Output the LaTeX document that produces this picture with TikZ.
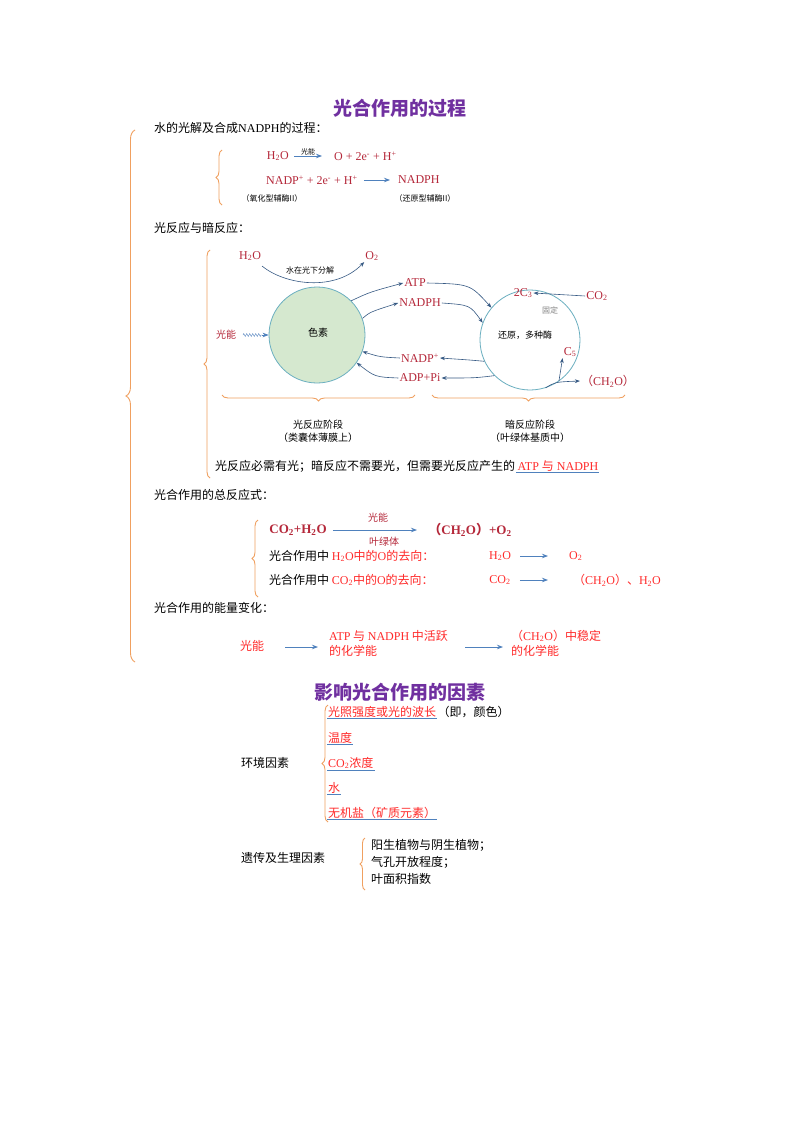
\documentclass[tikz,border=0pt]{standalone}
\usepackage{fontspec}
\setmainfont{Liberation Serif}
\newfontfamily\cjk{Noto Sans CJK SC}
\usetikzlibrary{arrows.meta,decorations.pathreplacing,decorations.pathmorphing}
\definecolor{dred}{HTML}{B5283A}
\definecolor{ared}{HTML}{FF2A2A}
\definecolor{ablue}{HTML}{4F81BD}
\definecolor{ora}{HTML}{F0A060}
\definecolor{pur}{HTML}{7030A0}
\definecolor{cfill}{HTML}{D5E8CF}
\definecolor{cline}{HTML}{6AAFC0}
\newcommand{\sbx}[1]{\textsubscript{#1}}
\newcommand{\spx}[1]{\textsuperscript{#1}}
\newcommand{\lp}{{\cjk （}}
\newcommand{\rp}{{\cjk ）}}
\tikzset{
 x=1pt,y=-1pt,
 every node/.style={inner sep=1pt,font=\fontsize{12}{14}\selectfont},
 title/.style={font=\cjk\bfseries\fontsize{19}{21}\selectfont,text=pur},
 lab/.style={anchor=west,font=\cjk\fontsize{12}{14}\selectfont},
 dr/.style={text=dred,font=\fontsize{12}{14}\selectfont},
 rr/.style={text=ared,font=\fontsize{12}{14}\selectfont},
 arr/.style={draw=ablue,-{Stealth[length=6pt]},line width=0.8pt},
 carr/.style={draw=ablue!70!black,-{Stealth[length=5pt]},line width=0.6pt},
 br/.style={draw=ora,line width=0.9pt,decorate,decoration={brace,amplitude=#1}},
 br/.default=7pt,
 ul/.style={draw=ablue,line width=1pt},
}
\begin{document}
\begin{tikzpicture}
\useasboundingbox[fill=white] (0,0) rectangle (800,1132);
\node[title] (t1) at (400,108) {光合作用的过程};
\draw[br=9pt] (135,662) -- (135,130);
\node[lab] (h1) at (153,128) {水的光解及合成{\rmfamily NADPH}的过程：};
\draw[br=6pt] (222,205) -- (222,150);
\node[dr,anchor=east] (w1) at (290,156) {H\sbx{2}O};
\node[dr,anchor=west] (w2) at (333,156) {O + 2e\spx{-} + H\spx{+}};
\coordinate (w1e) at (294,156);
\coordinate (w2w) at (322,156);
\draw[arr] (w1e) -- node[above,font=\cjk\fontsize{7}{8}\selectfont]{光能} (w2w);
\node[dr,anchor=west] (n1) at (265,180) {NADP\spx{+} + 2e\spx{-} + H\spx{+}};
\node[dr,anchor=west] (n2) at (397,180) {NADPH};
\draw[arr] (n1.east) ++(5,0) -- (390,180);
\node[font=\cjk\fontsize{8}{9}\selectfont] (o1) at (272,198) {（氧化型辅酶II）};
\node[font=\cjk\fontsize{8}{9}\selectfont] (o2) at (425,198) {（还原型辅酶II）};
\node[lab] (h2) at (153,228) {光反应与暗反应：};
\draw[br=6pt] (210,478) -- (210,250);
% diagram
\node[circle,draw=cline,fill=cfill,minimum size=96pt,line width=0.8pt] (c1) at (317,335) {};
\node[font=\cjk] (sz) at (318,333) {色素};
\node[circle,draw=cline,minimum size=100pt,line width=0.8pt] (c2) at (530,340) {};
\node[dr] (h2o) at (250,256) {H\sbx{2}O};
\node[dr] (o2) at (372,256) {O\sbx{2}};
\node[font=\cjk\fontsize{8}{9}\selectfont] (fj) at (310,270) {水在光下分解};
\draw[carr] (262,266) .. controls (285,285) and (335,292) .. (o2.south west);
\node[dr,font=\cjk] (gn) at (226,335) {光能};
\coordinate (gw) at (262,335);
\draw[ablue,decorate,decoration={zigzag,amplitude=1.5pt,segment length=3pt}] (243,335) -- (gw);
\draw[arr] (gw) -- (c1.west);
\node[dr] (atp) at (415,283) {ATP};
\node[dr] (nadph) at (420,303) {NADPH};
\node[dr] (nadp) at (420,358) {NADP\spx{+}};
\node[dr] (adp) at (420,378) {ADP+Pi};
\draw[carr] (c1.45) .. controls (370,292) .. (atp.west);
\draw[carr] (c1.20) .. controls (370,312) .. (nadph.west);
\draw[carr] (atp.east) .. controls (470,284) .. (c2.140);
\draw[carr] (nadph.east) .. controls (470,305) .. (c2.160);
\draw[carr] (c2.205) .. controls (470,360) .. (nadp.east);
\draw[carr] (c2.225) .. controls (475,378) .. (adp.east);
\draw[carr] (nadp.west) .. controls (380,357) .. (c1.-20);
\draw[carr] (adp.west) .. controls (375,377) .. (c1.-35);
\node[dr] (c3) at (523,293) {2C\sbx{3}};
\node[dr] (co2) at (597,296) {CO\sbx{2}};
\draw[carr] (co2.west) -- (c3.east);
\node[font=\cjk\fontsize{8}{9}\selectfont,text=gray] (gd) at (550,310) {固定};
\node[font=\cjk\fontsize{9}{10}\selectfont] (hy) at (525,335) {还原，多种酶};
\node[dr] (c5) at (570,352) {C\sbx{5}};
\node[dr] (ch2o) at (608,381) {\lp CH\sbx{2}O\rp};
\draw[carr] (c2.-55) -- (c5.south west);
\draw[carr] (c2.-72) .. controls (555,382) .. (ch2o.west);
\draw[br=6pt] (415,395) -- (222,395);
\draw[br=6pt] (625,395) -- (432,395);
\node[font=\cjk\fontsize{10}{13}\selectfont,align=center] (gf) at (318,431) {光反应阶段\\（类囊体薄膜上）};
\node[font=\cjk\fontsize{10}{13}\selectfont,align=center] (af) at (530,431) {暗反应阶段\\（叶绿体基质中）};
\node[lab] (ln) at (214,466) {光反应必需有光；暗反应不需要光，但需要光反应产生的};
\node[lab,text=ared,font=\rmfamily\fontsize{12}{14}\selectfont,inner sep=1pt] (an) at (ln.east) {ATP {\cjk 与} NADPH};
\draw[ul] (an.south west) -- (an.south east);
\node[lab] (h3) at (153,495) {光合作用的总反应式：};
\draw[br=6pt] (258,597) -- (258,520);
\node[dr,font=\bfseries\fontsize{13}{15}\selectfont] (cw) at (298,530) {CO\sbx{2}+H\sbx{2}O};
\node[dr,font=\bfseries\fontsize{13}{15}\selectfont] (cc) at (470,530) {\lp CH\sbx{2}O\rp +O\sbx{2}};
\draw[arr] (cw.east) ++(5,0) coordinate (p1) -- (417,530) coordinate (p2);
\node[font=\cjk\fontsize{10}{11}\selectfont,text=dred] (gn2) at (378,518) {光能};
\node[font=\cjk\fontsize{10}{11}\selectfont,text=dred] (ylt) at (384,542) {叶绿体};
\node[lab] (q1) at (268,556) {光合作用中 \textcolor{ared}{{\rmfamily H\sbx{2}O}中的{\rmfamily O}的去向：}};
\node[rr] (q1a) at (500,556) {H\sbx{2}O};
\node[rr,anchor=west] (q1b) at (568,556) {O\sbx{2}};
\draw[arr] (q1a.east) ++(8,0) -- (548,556);
\node[lab] (q2) at (268,580) {光合作用中 \textcolor{ared}{{\rmfamily CO\sbx{2}}中的{\rmfamily O}的去向：}};
\node[rr] (q2a) at (500,580) {CO\sbx{2}};
\node[rr,anchor=west,font=\cjk\fontsize{12}{14}\selectfont] (q2b) at (572,580) {（{\rmfamily CH\sbx{2}O}）、{\rmfamily H\sbx{2}O}};
\draw[arr] (q2a.east) ++(8,0) -- (548,580);
\node[lab] (h4) at (153,608) {光合作用的能量变化：};
\node[rr,font=\cjk\fontsize{12}{14}\selectfont] (e1) at (252,646) {光能};
\node[rr,anchor=west,align=left,font=\cjk\fontsize{12}{15}\selectfont] (e2) at (328,643) {{\rmfamily ATP} 与 {\rmfamily NADPH} 中活跃\\的化学能};
\node[rr,anchor=west,align=left,font=\cjk\fontsize{12}{15}\selectfont] (e3) at (510,643) {（{\rmfamily CH\sbx{2}O}）中稳定\\的化学能};
\draw[arr] (285,647) -- (318,647);
\draw[arr] (465,647) -- (503,647);
% part 2
\node[title] (t2) at (400,692) {影响光合作用的因素};
\draw[br=6pt] (328,822) -- (328,705);
\node[lab] (env) at (240,763) {环境因素};
\node[lab,text=ared] (f1) at (327,712) {光照强度或光的波长};
\node[lab,inner sep=0pt] (f1b) at (f1.east) {（即，颜色）};
\node[lab,text=ared] (f2) at (327,738) {温度};
\node[lab,text=ared] (f3) at (327,763) {{\rmfamily CO\sbx{2}}浓度};
\node[lab,text=ared] (f4) at (327,788) {水};
\node[lab,text=ared] (f5) at (327,813) {无机盐（矿质元素）};
\foreach \f in {f1,f2,f3,f4,f5} \draw[ul] (\f.south west) -- (\f.south east);
\draw[br=5pt] (365,890) -- (365,838);
\node[lab] (g0) at (240,858) {遗传及生理因素};
\node[lab,align=left,font=\cjk\fontsize{12}{17}\selectfont] (g1) at (370,862) {阳生植物与阴生植物；\\气孔开放程度；\\叶面积指数};
\end{tikzpicture}
\end{document}
